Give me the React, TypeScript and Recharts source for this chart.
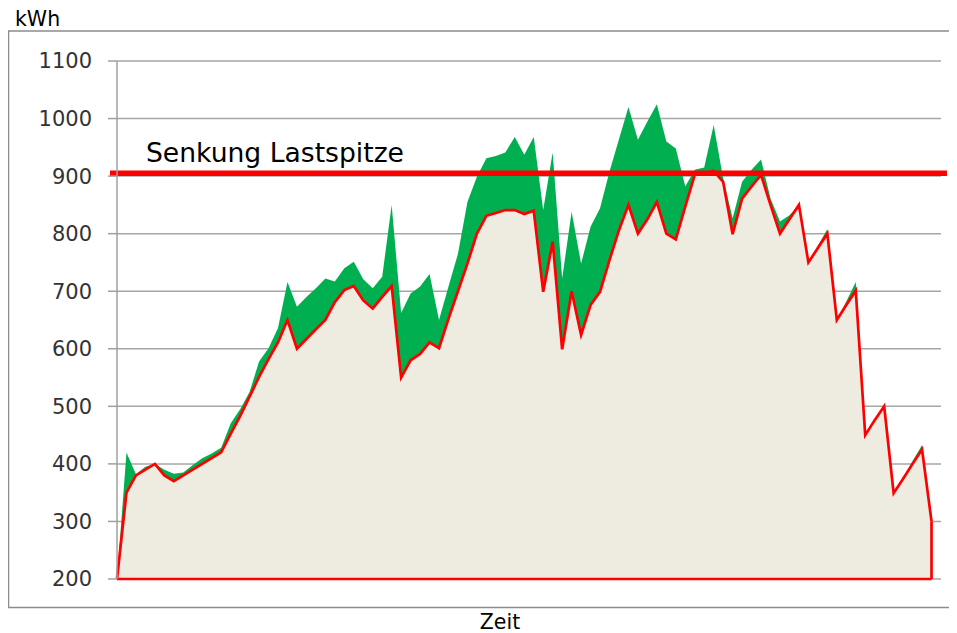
import { ComposedChart, Area, XAxis, YAxis, CartesianGrid, ReferenceLine } from "recharts";

// load profile, one value per interval (kWh)
const original = [
  200, 420, 382, 395, 400, 390, 383, 385, 398, 410, 418, 428, 470, 495, 525, 578, 601, 636, 716, 673,
  690, 705, 722, 717, 740, 751, 721, 705, 725, 850, 662, 696, 708, 730, 650, 708, 765, 855, 899, 931,
  935, 941, 968, 937, 968, 841, 941, 722, 838, 748, 812, 844, 908, 964, 1020, 963, 995, 1025, 960, 948,
  882, 911, 915, 989, 896, 827, 890, 911, 929, 861, 821, 832, 850, 752, 779, 808, 650, 682, 716, 450,
  476, 500, 349, 376, 405, 433, 300,
];
const reduced = [
  200, 350, 380, 390, 400, 380, 370, 380, 390, 400, 410, 420, 452, 483, 517, 551, 582, 611, 650, 600,
  617, 634, 650, 681, 702, 709, 684, 670, 690, 709, 550, 580, 591, 611, 601, 652, 700, 748, 800, 831,
  836, 841, 841, 834, 840, 699, 786, 599, 700, 624, 676, 699, 754, 806, 850, 800, 825, 855, 800, 790,
  847, 902, 905, 909, 890, 799, 861, 882, 902, 850, 800, 825, 850, 750, 775, 800, 650, 676, 701, 450,
  476, 500, 349, 374, 400, 425, 300,
];
const yTicks = [200, 300, 400, 500, 600, 700, 800, 900, 1000, 1100];
const peakLimit = 905;
const peakLabel = "Senkung Lastspitze";
// the drawn limit line runs a bit past both ends of the plot
const limitFrom = -0.74;
const limitTo = 87.63;

const data = reduced.map((r, i) => ({ i, original: original[i], reduced: r }));
const last = data.length - 1;
const font = "'DejaVu Sans', Verdana, sans-serif";

export default function App() {
  return (
    <div style={{ position: "relative", width: 949, height: 625 }}>
      <svg width={957} height={633} style={{ position: "absolute", left: -8, top: -8 }}>
        <rect x={8.5} y={31} width={944.5} height={576.5} fill="none" stroke="#8c8c8c" strokeWidth={1.5} />
        <text x={15} y={26} fontFamily={font} fontSize={20.5} fill="#000">kWh</text>
        <text x={500} y={629} textAnchor="middle" fontFamily={font} fontSize={20.5} fill="#000">Zeit</text>
      </svg>
      <ComposedChart width={949} height={625} data={data} margin={{ top: 53, right: 16, bottom: 54, left: 0 }}>
        <CartesianGrid vertical={false} stroke="#a6a6a6" strokeWidth={1.5} />
        <XAxis dataKey="i" type="number" domain={[0, 87]} hide />
        <YAxis
          domain={[200, 1100]}
          ticks={yTicks}
          width={109}
          tickSize={9}
          tickMargin={16}
          stroke="#a0a0a0"
          strokeWidth={1.5}
          tick={{ fill: "#333", fontSize: 21, fontFamily: font }}
        />
        <Area type="linear" dataKey="original" stroke="none" fill="#00b050" fillOpacity={1} isAnimationActive={false} />
        <Area type="linear" dataKey="reduced" stroke="#ff0000" strokeWidth={2.7} fill="#eeece1" fillOpacity={1} isAnimationActive={false} />
        <ReferenceLine segment={[{ x: 0, y: 200 }, { x: last, y: 200 }]} stroke="#ff0000" strokeWidth={2.7} />
        <ReferenceLine segment={[{ x: last, y: 200 }, { x: last, y: reduced[last] }]} stroke="#ff0000" strokeWidth={2.7} />
        <ReferenceLine
          segment={[{ x: limitFrom, y: peakLimit }, { x: limitTo, y: peakLimit }]}
          ifOverflow="visible"
          stroke="#ff0000"
          strokeWidth={5.5}
          label={{
            content: (p: any) => (
              <text x={p.viewBox.x + 36} y={p.viewBox.y - 11} fontFamily={font} fontSize={26.6} fill="#000">
                {peakLabel}
              </text>
            ),
          }}
        />
      </ComposedChart>
    </div>
  );
}
